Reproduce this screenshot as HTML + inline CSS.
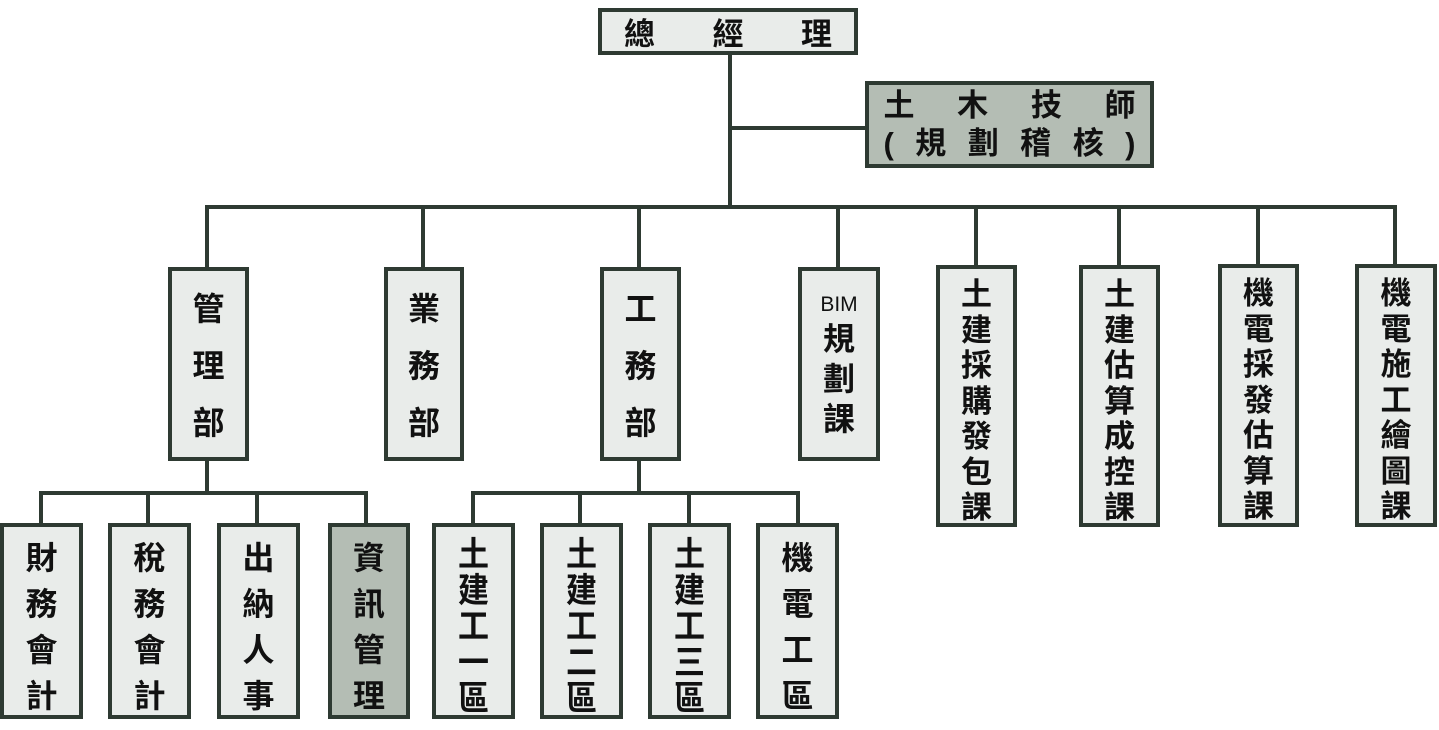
<!DOCTYPE html>
<html><head><meta charset="utf-8"><style>
body{margin:0;width:1439px;height:730px;background:#fff;position:relative;overflow:hidden;font-family:"Liberation Sans","Noto Sans CJK TC",sans-serif;color:#111}
.b{position:absolute;box-sizing:border-box;border:4px solid #2e3a32;background:#e9ecea;display:flex;flex-direction:column;align-items:center;font-size:32px;font-weight:bold}
.g{background:#b4bdb4}
.l{position:absolute;background:#2e3a32}
.v{justify-content:space-around;padding:6px 0}
.f{line-height:36px;padding-top:10px;font-size:31px}
.f span{display:block;transform:scaleY(1.1)}
.s{padding-top:8px;line-height:35.5px;font-size:31px}
</style></head><body>
<div class="l" style="left:728px;top:52px;width:4px;height:157px"></div>
<div class="l" style="left:728px;top:126px;width:140px;height:4px"></div>
<div class="l" style="left:205px;top:205px;width:1192px;height:4px"></div>
<div class="l" style="left:205px;top:205px;width:4px;height:64px"></div>
<div class="l" style="left:421px;top:205px;width:4px;height:64px"></div>
<div class="l" style="left:637px;top:205px;width:4px;height:64px"></div>
<div class="l" style="left:836px;top:205px;width:4px;height:64px"></div>
<div class="l" style="left:974px;top:205px;width:4px;height:62px"></div>
<div class="l" style="left:1117px;top:205px;width:4px;height:62px"></div>
<div class="l" style="left:1256px;top:205px;width:4px;height:62px"></div>
<div class="l" style="left:1393px;top:205px;width:4px;height:62px"></div>
<div class="l" style="left:205px;top:458px;width:4px;height:37px"></div>
<div class="l" style="left:39px;top:491px;width:329px;height:4px"></div>
<div class="l" style="left:39px;top:491px;width:4px;height:34px"></div>
<div class="l" style="left:146px;top:491px;width:4px;height:34px"></div>
<div class="l" style="left:255px;top:491px;width:4px;height:34px"></div>
<div class="l" style="left:364px;top:491px;width:4px;height:34px"></div>
<div class="l" style="left:637px;top:458px;width:4px;height:37px"></div>
<div class="l" style="left:471px;top:491px;width:329px;height:4px"></div>
<div class="l" style="left:471px;top:491px;width:4px;height:34px"></div>
<div class="l" style="left:578px;top:491px;width:4px;height:34px"></div>
<div class="l" style="left:687px;top:491px;width:4px;height:34px"></div>
<div class="l" style="left:796px;top:491px;width:4px;height:34px"></div>

<div class="b" style="left:598px;top:8px;width:260px;height:47px;flex-direction:row;justify-content:space-between;padding:0 22px;font-size:31px">
<span>總</span><span>經</span><span>理</span></div>
<div class="b g" style="left:865px;top:81px;width:289px;height:87px;justify-content:center;font-size:31px;line-height:38px">
<div style="width:252px;display:flex;justify-content:space-between"><span>土</span><span>木</span><span>技</span><span>師</span></div>
<div style="width:252px;display:flex;justify-content:space-between"><span>(</span><span>規</span><span>劃</span><span>稽</span><span>核</span><span>)</span></div></div>

<div class="b v" style="left:168px;top:267px;width:81px;height:194px;padding:8px 0"><span>管</span><span>理</span><span>部</span></div>
<div class="b v" style="left:384px;top:267px;width:80px;height:194px;padding:8px 0"><span>業</span><span>務</span><span>部</span></div>
<div class="b v" style="left:600px;top:267px;width:81px;height:194px;padding:8px 0"><span>工</span><span>務</span><span>部</span></div>
<div class="b" style="left:798px;top:267px;width:82px;height:194px;padding-top:20px;line-height:40px"><span style="font-size:21px;font-weight:normal;line-height:28px">BIM</span><span>規</span><span>劃</span><span>課</span></div>
<div class="b s" style="left:936px;top:265px;width:81px;height:262px"><span>土</span><span>建</span><span>採</span><span>購</span><span>發</span><span>包</span><span>課</span></div>
<div class="b s" style="left:1079px;top:265px;width:81px;height:262px"><span>土</span><span>建</span><span>估</span><span>算</span><span>成</span><span>控</span><span>課</span></div>
<div class="b s" style="left:1218px;top:264px;width:81px;height:263px"><span>機</span><span>電</span><span>採</span><span>發</span><span>估</span><span>算</span><span>課</span></div>
<div class="b s" style="left:1355px;top:264px;width:82px;height:263px"><span>機</span><span>電</span><span>施</span><span>工</span><span>繪</span><span>圖</span><span>課</span></div>

<div class="b v" style="left:0px;top:523px;width:83px;height:196px"><span>財</span><span>務</span><span>會</span><span>計</span></div>
<div class="b v" style="left:108px;top:523px;width:83px;height:196px"><span>稅</span><span>務</span><span>會</span><span>計</span></div>
<div class="b v" style="left:217px;top:523px;width:83px;height:196px"><span>出</span><span>納</span><span>人</span><span>事</span></div>
<div class="b g v" style="left:328px;top:523px;width:82px;height:196px"><span>資</span><span>訊</span><span>管</span><span>理</span></div>
<div class="b f" style="left:432px;top:523px;width:83px;height:196px"><span>土</span><span>建</span><span>工</span><span>一</span><span>區</span></div>
<div class="b f" style="left:540px;top:523px;width:83px;height:196px"><span>土</span><span>建</span><span>工</span><span>二</span><span>區</span></div>
<div class="b f" style="left:648px;top:523px;width:83px;height:196px"><span>土</span><span>建</span><span>工</span><span>三</span><span>區</span></div>
<div class="b v" style="left:756px;top:523px;width:83px;height:196px"><span>機</span><span>電</span><span>工</span><span>區</span></div>
</body></html>
